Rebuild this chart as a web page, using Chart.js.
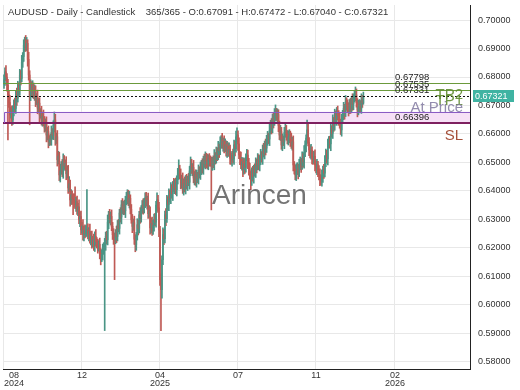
<!DOCTYPE html>
<html>
<head>
<meta charset="utf-8">
<script src="https://cdn.jsdelivr.net/npm/chart.js@4.4.1/dist/chart.umd.min.js"></script>
<style>
  html, body { margin: 0; padding: 0; background: #fff; }
  #wrap { width: 520px; height: 390px; }
</style>
</head>
<body>
<div id="wrap"><canvas id="chart" width="520" height="390"></canvas></div>
<script>
// Daily closes, 365 bars
const firstOpen = 0.6775;
const closes = [
  0.6790, 0.6818, 0.6800, 0.6772, 0.6737, 0.6710, 0.6667, 0.6680, 0.6649, 0.6684,
  0.6705, 0.6690, 0.6737, 0.6725, 0.6768, 0.6752, 0.6807, 0.6795, 0.6853, 0.6872,
  0.6912, 0.6930, 0.6905, 0.6918, 0.6862, 0.6807, 0.6737, 0.6772, 0.6748, 0.6765,
  0.6737, 0.6752, 0.6719, 0.6730, 0.6691, 0.6708, 0.6667, 0.6676, 0.6649, 0.6662,
  0.6648, 0.6621, 0.6635, 0.6596, 0.6608, 0.6572, 0.6582, 0.6579, 0.6605, 0.6596,
  0.6630, 0.6649, 0.6579, 0.6590, 0.6509, 0.6522, 0.6456, 0.6470, 0.6491, 0.6468,
  0.6509, 0.6488, 0.6497, 0.6460, 0.6471, 0.6410, 0.6425, 0.6368, 0.6386, 0.6372,
  0.6368, 0.6360, 0.6351, 0.6362, 0.6333, 0.6344, 0.6298, 0.6310, 0.6263, 0.6276,
  0.6246, 0.6262, 0.6250, 0.6262, 0.6263, 0.6248, 0.6258, 0.6230, 0.6241, 0.6215,
  0.6228, 0.6211, 0.6240, 0.6222, 0.6211, 0.6203, 0.6212, 0.6180, 0.6165, 0.6178,
  0.6193, 0.6205, 0.6211, 0.6240, 0.6228, 0.6290, 0.6316, 0.6299, 0.6310, 0.6275,
  0.6246, 0.6235, 0.6228, 0.6252, 0.6240, 0.6280, 0.6268, 0.6322, 0.6308, 0.6351,
  0.6335, 0.6348, 0.6330, 0.6368, 0.6375, 0.6386, 0.6362, 0.6374, 0.6335, 0.6298,
  0.6275, 0.6288, 0.6230, 0.6211, 0.6240, 0.6281, 0.6268, 0.6316, 0.6305, 0.6333,
  0.6350, 0.6338, 0.6362, 0.6375, 0.6360, 0.6368, 0.6320, 0.6331, 0.6270, 0.6285,
  0.6262, 0.6281, 0.6300, 0.6290, 0.6350, 0.6368, 0.6340, 0.6263, 0.6088, 0.6053,
  0.6158, 0.6246, 0.6232, 0.6316, 0.6302, 0.6368, 0.6352, 0.6386, 0.6375, 0.6404,
  0.6390, 0.6421, 0.6410, 0.6425, 0.6404, 0.6439, 0.6460, 0.6474, 0.6455, 0.6430,
  0.6442, 0.6404, 0.6425, 0.6412, 0.6439, 0.6421, 0.6440, 0.6430, 0.6470, 0.6491,
  0.6475, 0.6482, 0.6445, 0.6456, 0.6432, 0.6450, 0.6445, 0.6472, 0.6460, 0.6480,
  0.6491, 0.6478, 0.6509, 0.6495, 0.6520, 0.6505, 0.6491, 0.6512, 0.6509, 0.6498,
  0.6491, 0.6505, 0.6496, 0.6520, 0.6510, 0.6535, 0.6527, 0.6552, 0.6541, 0.6570,
  0.6579, 0.6562, 0.6574, 0.6550, 0.6562, 0.6541, 0.6556, 0.6538, 0.6545, 0.6515,
  0.6509, 0.6525, 0.6512, 0.6562, 0.6548, 0.6590, 0.6596, 0.6565, 0.6526, 0.6512,
  0.6491, 0.6502, 0.6474, 0.6495, 0.6482, 0.6518, 0.6526, 0.6500, 0.6474, 0.6455,
  0.6439, 0.6462, 0.6450, 0.6475, 0.6466, 0.6500, 0.6488, 0.6509, 0.6491, 0.6510,
  0.6526, 0.6515, 0.6544, 0.6532, 0.6561, 0.6550, 0.6579, 0.6590, 0.6582, 0.6612,
  0.6632, 0.6621, 0.6656, 0.6645, 0.6665, 0.6677, 0.6660, 0.6668, 0.6630, 0.6596,
  0.6608, 0.6561, 0.6580, 0.6572, 0.6605, 0.6614, 0.6600, 0.6579, 0.6590, 0.6596,
  0.6580, 0.6561, 0.6572, 0.6491, 0.6475, 0.6456, 0.6470, 0.6481, 0.6465, 0.6491,
  0.6500, 0.6488, 0.6515, 0.6502, 0.6535, 0.6561, 0.6585, 0.6614, 0.6570, 0.6544,
  0.6530, 0.6542, 0.6520, 0.6509, 0.6521, 0.6491, 0.6480, 0.6492, 0.6465, 0.6456,
  0.6440, 0.6432, 0.6450, 0.6474, 0.6462, 0.6509, 0.6525, 0.6512, 0.6562, 0.6579,
  0.6565, 0.6614, 0.6602, 0.6642, 0.6630, 0.6667, 0.6652, 0.6675, 0.6665, 0.6649,
  0.6640, 0.6614, 0.6650, 0.6667, 0.6690, 0.6676, 0.6712, 0.6702, 0.6690, 0.6684,
  0.6705, 0.6690, 0.6719, 0.6705, 0.6726, 0.6735, 0.6737, 0.6710, 0.6684, 0.6695,
  0.6702, 0.6690, 0.6719, 0.67091, 0.67321
];
// wick above / below the body, in pips
const wickUp = [
  18,14,22,12,20,16,25,13,19,15,  15,21,13,24,17,12,20,16,23,14,  19,10,16,21,13,25,15,18,12,22,
  14,20,17,12,24,16,19,13,21,15,  22,13,18,25,15,20,12,17,23,14,  16,28,20,13,22,17,14,24,12,19,
  21,15,12,23,16,19,25,13,18,14,  17,22,54,15,20,12,24,16,19,13,  23,14,19,16,141,21,13,25,15,18,
  12,20,16,24,14,19,13,22,17,15,  20,13,22,15,18,25,12,19,16,23,  14,21,17,12,24,16,20,13,19,15,
  22,15,19,13,20,18,16,24,12,17,  19,13,23,16,14,21,17,12,25,15,  16,22,12,18,20,14,24,17,13,19,
  23,15,18,21,13,25,16,20,12,20,  14,24,19,13,22,16,12,21,17,25,  18,12,23,15,20,14,19,35,16,22,
  13,21,17,24,15,19,12,22,16,28,  20,14,25,12,18,23,15,19,13,21,  16,22,13,20,17,12,24,15,19,14,
  21,13,18,25,14,19,16,22,12,20,  15,23,12,19,21,14,18,13,24,16,  19,14,22,16,13,20,25,15,21,12,
  24,16,13,21,18,12,20,17,14,23,  13,19,24,15,20,16,12,22,18,14,  20,12,17,23,14,21,16,19,13,25,
  16,22,14,19,24,25,13,20,17,15,  22,15,20,13,18,24,16,12,21,19,  14,23,17,21,12,16,25,18,13,20,
  19,13,22,16,24,15,12,35,20,17,  15,21,13,20,17,23,14,19,12,24,  21,16,24,13,19,15,22,17,20,12,
  13,22,15,25,16,20,14,18,23,17,  24,12,19,16,21,14,23,15,18,20,  16,20,13,22,15,18,28,21,14,23,
  19,15,22,17,15
];
const wickDown = [
  15,20,13,22,158,17,24,12,19,16,  21,14,18,25,13,20,16,23,12,19,  17,22,15,12,24,18,105,20,14,21,
  13,19,23,16,20,14,25,12,18,22,  20,15,12,24,17,21,13,18,19,14,  16,23,19,13,22,15,20,25,12,18,
  24,13,17,21,15,19,12,22,16,20,  52,18,14,23,16,20,13,24,17,12,  19,22,15,12,21,17,24,14,20,16,
  13,20,24,17,12,22,15,19,25,14,  21,16,296,20,14,18,23,12,19,15,  17,23,140,14,22,16,12,20,18,24,
  15,19,13,24,17,21,14,22,16,12,  22,14,18,25,20,13,23,16,19,15,  12,20,16,21,14,24,17,13,22,18,
  19,15,23,12,18,21,16,24,20,144,  30,17,21,15,24,13,19,22,14,20,  16,24,12,20,17,22,15,19,13,23,
  21,13,19,16,23,15,20,12,24,17,  14,22,17,24,13,19,16,21,15,20,  23,16,20,13,18,24,14,17,22,12,
  158,19,15,22,16,13,21,18,24,14,  20,13,23,17,12,19,24,15,18,21,  16,22,14,19,25,12,18,23,13,20,
  13,18,24,15,21,16,12,22,19,14,  35,20,16,23,13,19,25,14,17,21,  18,14,22,12,20,24,15,19,16,23,
  12,21,17,24,15,18,13,20,22,16,  19,15,20,13,24,17,22,14,18,21,  24,12,18,21,16,17,20,13,23,15,
  17,23,13,19,22,15,24,18,12,20,  14,19,25,16,13,21,17,23,15,18,  22,11,16,20,18,13,24,15,21,12,
  15,24,13,18,21,17,12,22,16,19,  20,16,22,14,17,24,15,19,13,21,  13,18,15,22,20,14,19,16,24,17,
  21,14,18,16,5
];

// axis ticks
const yTickValues = [0.58, 0.59, 0.60, 0.61, 0.62, 0.63, 0.64, 0.65, 0.66, 0.67, 0.68, 0.69, 0.70];
const xTickValues = [0, 79, 158, 237, 316, 396];
const xTickLabels = [['  08', '2024'], '12', ['04', '2025'], '07', '11', ['02', '2026']];

// trade levels
const tp2Level = 0.67798;
const tp1Level = 0.67535;
const entryLevel = 0.67331;
const zoneTop = 0.66780;
const slLevel = 0.66396;

const titleText = 'AUDUSD - Daily - Candlestick    365/365 - O:0.67091 - H:0.67472 - L:0.67040 - C:0.67321';

const X_MIN = -1, X_MAX = 472;
const UP = '#4a9585', DOWN = '#bf5a55';
const FONT = '"Liberation Sans", Arial, sans-serif';

const opens = closes.map((c, i) => i === 0 ? firstOpen : closes[i - 1]);
const highs = closes.map((c, i) => Math.max(opens[i], c) + wickUp[i] / 10000);
const lows = closes.map((c, i) => Math.min(opens[i], c) - wickDown[i] / 10000);
const colors = closes.map((c, i) => c >= opens[i] ? UP : DOWN);

Chart.defaults.font.family = FONT;

const levelsPlugin = {
    id: 'levels',
    beforeDatasetsDraw(chart) {
        const { ctx, chartArea: a, scales: { x, y } } = chart;
        const left = x.getPixelForValue(0);
        const top = y.getPixelForValue(zoneTop);
        const bot = y.getPixelForValue(slLevel);
        ctx.save();
        ctx.fillStyle = '#f6e0f6';
        ctx.fillRect(left, top, a.right - left, bot - top);
        ctx.restore();
    },
    afterDatasetsDraw(chart) {
        const { ctx, chartArea: a, scales: { x, y } } = chart;
        const hline = (v, color, width, dash, from) => {
            const py = Math.round(y.getPixelForValue(v)) + (width % 2 ? 0.5 : 0);
            ctx.beginPath();
            ctx.setLineDash(dash || []);
            ctx.strokeStyle = color;
            ctx.lineWidth = width;
            ctx.moveTo(from, py);
            ctx.lineTo(a.right, py);
            ctx.stroke();
            return py;
        };
        ctx.save();
        const zoneLeft = Math.round(x.getPixelForValue(0)) + 0.5;
        hline(tp2Level, '#6b9a3c', 1, null, a.left);
        hline(tp1Level, '#6b9a3c', 1, null, a.left);
        hline(entryLevel, '#111', 1, [2, 2], a.left);
        const pTop = hline(zoneTop, '#8a5cc4', 1, null, zoneLeft);
        const pSl = hline(slLevel, '#7e2060', 2, null, a.left);
        ctx.setLineDash([]);
        ctx.strokeStyle = '#8a5cc4';
        ctx.lineWidth = 1;
        ctx.beginPath();
        ctx.moveTo(zoneLeft, pTop);
        ctx.lineTo(zoneLeft, pSl);
        ctx.stroke();

        // level values
        const lx = x.getPixelForValue(xTickValues[5]);
        ctx.font = '9.5px ' + FONT;
        ctx.fillStyle = '#222';
        ctx.textAlign = 'left';
        ctx.textBaseline = 'alphabetic';
        [tp2Level, tp1Level, entryLevel, slLevel].forEach(v => {
            ctx.fillText(v.toFixed(5), lx, y.getPixelForValue(v) - 3);
        });

        // level names
        ctx.font = '15px ' + FONT;
        ctx.textAlign = 'right';
        const rx = a.right - 7;
        ctx.fillStyle = 'rgba(96, 140, 48, 0.9)';
        ctx.fillText('TP2', rx, y.getPixelForValue(tp2Level) + 16);
        ctx.fillText('TP1', rx, y.getPixelForValue(tp1Level) + 15);
        ctx.fillStyle = 'rgba(128, 120, 160, 0.85)';
        ctx.fillText('At Price', rx, y.getPixelForValue(entryLevel) + 16);
        ctx.fillStyle = '#a5503a';
        ctx.fillText('SL', rx, y.getPixelForValue(slLevel) + 17);

        // watermark
        ctx.font = '28px ' + FONT;
        ctx.textAlign = 'left';
        ctx.fillStyle = 'rgba(70, 70, 70, 0.75)';
        ctx.fillText('Arincen', 212, 204);

        // title
        ctx.font = '9.5px ' + FONT;
        ctx.fillStyle = '#333';
        ctx.fillText(titleText, 8, 15);
        ctx.restore();
    },
    afterDraw(chart) {
        const { ctx, chartArea: a, scales: { y } } = chart;
        const last = closes[closes.length - 1];
        const py = Math.round(y.getPixelForValue(last));
        ctx.save();
        ctx.fillStyle = '#3fb3a2';
        ctx.fillRect(a.right + 3, py - 6, 41, 12);
        ctx.fillStyle = '#fff';
        ctx.font = '9px ' + FONT;
        ctx.textBaseline = 'middle';
        ctx.textAlign = 'left';
        ctx.fillText(last.toFixed(5), a.right + 5, py + 0.5);
        ctx.restore();
    }
};

new Chart(document.getElementById('chart'), {
    type: 'bar',
    data: {
        datasets: [
            {
                label: 'wick',
                data: closes.map((c, i) => ({ x: i, y: [lows[i], highs[i]] })),
                backgroundColor: colors,
                barThickness: 1,
                grouped: false,
                order: 2
            },
            {
                label: 'body',
                data: closes.map((c, i) => ({ x: i, y: [opens[i], c] })),
                backgroundColor: colors,
                barThickness: 1,
                grouped: false,
                order: 1
            }
        ]
    },
    options: {
        responsive: false,
        animation: false,
        layout: { padding: { top: 5, left: 3, right: 0, bottom: 0 } },
        plugins: {
            legend: { display: false },
            tooltip: { enabled: false },
            title: { display: false }
        },
        scales: {
            x: {
                type: 'linear',
                min: X_MIN,
                max: X_MAX,
                offset: false,
                afterBuildTicks: s => { s.ticks = xTickValues.concat([X_MAX]).map(v => ({ value: v })); },
                afterFit: s => { s.height = 21; s.paddingLeft = 0; s.paddingRight = 0; },
                ticks: {
                    align: 'inner',
                    autoSkip: false,
                    maxRotation: 0,
                    padding: 2,
                    color: '#333',
                    font: { size: 9, lineHeight: 0.95 },
                    callback: (v, i) => xTickLabels[i] !== undefined ? xTickLabels[i] : ''
                },
                grid: {
                    offset: false,
                    drawTicks: false,
                    color: c => (c.tick && c.tick.value === X_MAX) ? 'rgba(0,0,0,0)' : '#e8e8e8'
                },
                border: { display: true, color: '#222', width: 1 }
            },
            y: {
                position: 'right',
                min: 0.5774,
                max: 0.7053,
                afterBuildTicks: s => { s.ticks = yTickValues.map(v => ({ value: v })); },
                afterFit: s => { s.width = 50; s.paddingTop = 0; s.paddingBottom = 0; },
                ticks: {
                    padding: 8,
                    color: '#333',
                    font: { size: 9 },
                    callback: v => v.toFixed(5)
                },
                grid: { drawTicks: false, color: '#e8e8e8' },
                border: { display: true, color: '#222', width: 1 }
            }
        }
    },
    plugins: [levelsPlugin]
});
</script>
</body>
</html>
